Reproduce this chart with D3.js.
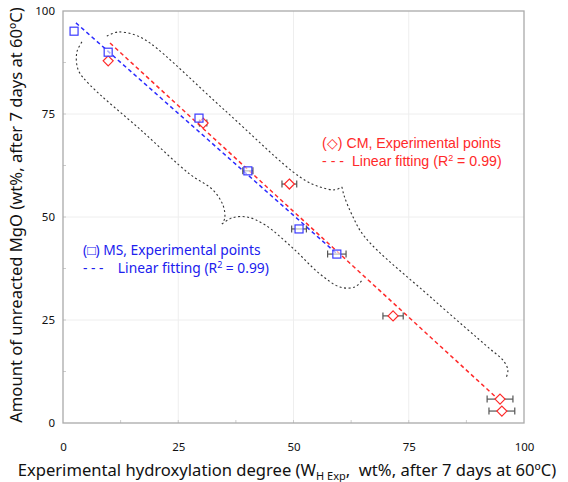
<!DOCTYPE html>
<html>
<head>
<meta charset="utf-8">
<style>
body { margin: 0; background: #fff; }
svg { display: block; }
.tick text { font: 11.5px "Noto Sans", sans-serif; fill: #111; }
.axlab { font: 16.6px "Noto Sans", sans-serif; fill: #111; }
.leg { font: 14.2px "Liberation Sans", Arial, sans-serif; }
.legb { font: 13.8px "Noto Sans", sans-serif; }
</style>
</head>
<body>
<svg width="568" height="482"></svg>
<script src="https://d3js.org/d3.v7.min.js"></script>
<script>
// MS series (squares)
var msX = [2.4, 9.8, 29.5, 40.1, 51.2, 59.4];
var msY = [95.1, 90.0, 74.0, 61.2, 47.1, 41.0];
var msErr = [0, 0, 0, 1.1, 1.6, 2.0];
// CM series (diamonds)
var cmX = [9.8, 30.4, 49.1, 71.6, 94.8, 95.2];
var cmY = [87.9, 72.8, 58.0, 26.0, 5.8, 2.9];
var cmErr = [0, 0.8, 1.6, 2.2, 2.8, 2.8];
// linear fits: [intercept, slope], [xstart, xend]
var msFit = [99.9, -0.99], msFitRange = [2.8, 59.5];
var cmFit = [102.7, -1.027], cmFitRange = [10.2, 95.2];
var majorTicks = [0, 25, 50, 75, 100];
var minorTicks = [12.5, 37.5, 62.5, 87.5];
// brace guides (data units), split at the cusp
var braceUpA = [[9.5,93.9],[11.9,94.9],[15.6,94.2],[18.9,92.2],[35,76],[51.4,59.7],[55.7,57.3],[59.0,56.6],[60.5,57.3]];
var braceUpB = [[60.5,57.3],[61.0,55.1],[62.7,50.5],[65.5,45.1],[80,30.3],[92.6,18.0],[95.4,15.3],[96.5,12.9],[96.1,10.9]];
var braceLoA = [[4.1,92.5],[3.0,90.0],[3.3,85.7],[5.9,82.0],[17,71],[27.5,60.4],[32.5,56.6],[34.7,52.9],[35.1,49.8],[34.5,48.3]];
var braceLoB = [[34.5,48.3],[36.7,49.8],[39.9,50.0],[43.8,48.1],[50,42.3],[55.7,36.2],[60.1,33.0],[63.3,33.0],[64.9,34.7]];

var svg = d3.select("svg"),
    margin = {top: 11, right: 44, bottom: 59, left: 63},
    width = 568 - margin.left - margin.right,
    height = 482 - margin.top - margin.bottom,
    g = svg.append("g").attr("transform", "translate(" + margin.left + "," + margin.top + ")");

var x = d3.scaleLinear().domain([0, 100]).range([0, width]);
var y = d3.scaleLinear().domain([0, 100]).range([height, 0]);

// grid
g.append("g").selectAll("line").data(majorTicks.slice(1, 4)).enter().append("line")
  .attr("x1", d => x(d)).attr("x2", d => x(d)).attr("y1", 0).attr("y2", height)
  .attr("stroke", "#eee");
g.append("g").selectAll("line").data(majorTicks.slice(1, 4)).enter().append("line")
  .attr("y1", d => y(d)).attr("y2", d => y(d)).attr("x1", 0).attr("x2", width)
  .attr("stroke", "#eee");

// minor ticks
g.append("g").selectAll("line").data(minorTicks.concat(majorTicks.slice(1, 4))).enter().append("line")
  .attr("x1", d => x(d)).attr("x2", d => x(d)).attr("y1", height).attr("y2", height - 3)
  .attr("stroke", "#ccc");
g.append("g").selectAll("line").data(minorTicks.concat(majorTicks.slice(1, 4))).enter().append("line")
  .attr("y1", d => y(d)).attr("y2", d => y(d)).attr("x1", 0).attr("x2", 3)
  .attr("stroke", "#ccc");

// axes
var xAxis = g.append("g").attr("transform", "translate(0," + height + ")")
  .call(d3.axisBottom(x).tickValues(majorTicks).tickSize(0).tickPadding(20));
var yAxis = g.append("g")
  .call(d3.axisLeft(y).tickValues(majorTicks).tickSize(0).tickPadding(8));
xAxis.select(".domain").remove();
yAxis.select(".domain").remove();

g.append("rect").attr("width", width).attr("height", height)
  .attr("fill", "none").attr("stroke", "#aaa").attr("stroke-width", 1.3);

// braces
var braceLine = d3.line().x(d => x(d[0])).y(d => y(d[1])).curve(d3.curveCatmullRom);
[braceUpA, braceUpB, braceLoA, braceLoB].forEach(function(b) {
  g.append("path").attr("d", braceLine(b)).attr("fill", "none")
    .attr("stroke", "#333").attr("stroke-width", 1.1).attr("stroke-dasharray", "2,2.5");
});

// fits
function fitLine(f, r, color) {
  g.append("line")
    .attr("x1", x(r[0])).attr("y1", y(f[0] + f[1] * r[0]))
    .attr("x2", x(r[1])).attr("y2", y(f[0] + f[1] * r[1]))
    .attr("stroke", color).attr("stroke-width", 1.5).attr("stroke-dasharray", "4,3");
}
fitLine(cmFit, cmFitRange, "#ff2a2a");
fitLine(msFit, msFitRange, "#2b2bff");

// error bars
function errBars(xs, ys, es) {
  var eb = g.append("g").attr("stroke", "#555").attr("stroke-width", 1.2);
  xs.forEach(function(xv, i) {
    if (!es[i]) return;
    var yy = y(ys[i]);
    eb.append("line").attr("x1", x(xv - es[i])).attr("x2", x(xv + es[i])).attr("y1", yy).attr("y2", yy);
    eb.append("line").attr("x1", x(xv - es[i])).attr("x2", x(xv - es[i])).attr("y1", yy - 3.5).attr("y2", yy + 3.5);
    eb.append("line").attr("x1", x(xv + es[i])).attr("x2", x(xv + es[i])).attr("y1", yy - 3.5).attr("y2", yy + 3.5);
  });
}
errBars(msX, msY, msErr);
errBars(cmX, cmY, cmErr);

// markers
g.append("g").selectAll("path").data(cmX).enter().append("path")
  .attr("d", "M0,-5L5,0L0,5L-5,0Z")
  .attr("transform", (d, i) => "translate(" + x(d) + "," + y(cmY[i]) + ")")
  .attr("fill", "#fff").attr("stroke", "#ff2a2a").attr("stroke-width", 1.2);
g.append("g").selectAll("rect").data(msX).enter().append("rect")
  .attr("x", d => x(d) - 4).attr("y", (d, i) => y(msY[i]) - 4)
  .attr("width", 8).attr("height", 8)
  .attr("fill", "#fff").attr("fill-opacity", 0.6).attr("stroke", "#3a3aff").attr("stroke-width", 1.2);

// legends
svg.append("text").attr("class", "leg").attr("x", 322).attr("y", 148).attr("fill", "#ff2a2a")
  .text("(\u25C7) CM, Experimental points");
svg.append("text").attr("class", "leg").attr("x", 322).attr("y", 166).attr("fill", "#ff2a2a")
  .html("- - -&#160;&#160;Linear fitting (R<tspan font-size='9' dy='-5'>2</tspan><tspan dy='5'> = 0.99)</tspan>");
svg.append("text").attr("class", "legb").attr("x", 83).attr("y", 255).attr("fill", "#2020ee")
  .text("(\u25A1) MS, Experimental points");
svg.append("text").attr("class", "legb").attr("x", 83).attr("y", 273).attr("fill", "#2020ee")
  .html("- - -&#160;&#160;&#160;&#160;Linear fitting (R<tspan font-size='9' dy='-5'>2</tspan><tspan dy='5'> = 0.99)</tspan>");

// axis titles
svg.append("text").attr("class", "axlab").attr("text-anchor", "middle")
  .attr("transform", "translate(22," + (margin.top + height / 2 - 2) + ") rotate(-90)")
  .text("Amount of unreacted MgO (wt%, after 7 days at 60\u00BAC)");
svg.append("text").attr("class", "axlab").attr("text-anchor", "middle")
  .attr("x", 287).attr("y", 476)
  .html("Experimental hydroxylation degree (W<tspan font-size='11' dy='4'>H Exp</tspan><tspan dy='-4'>,&#160; wt%, after 7 days at 60\u00BAC)</tspan>");
</script>
</body>
</html>
